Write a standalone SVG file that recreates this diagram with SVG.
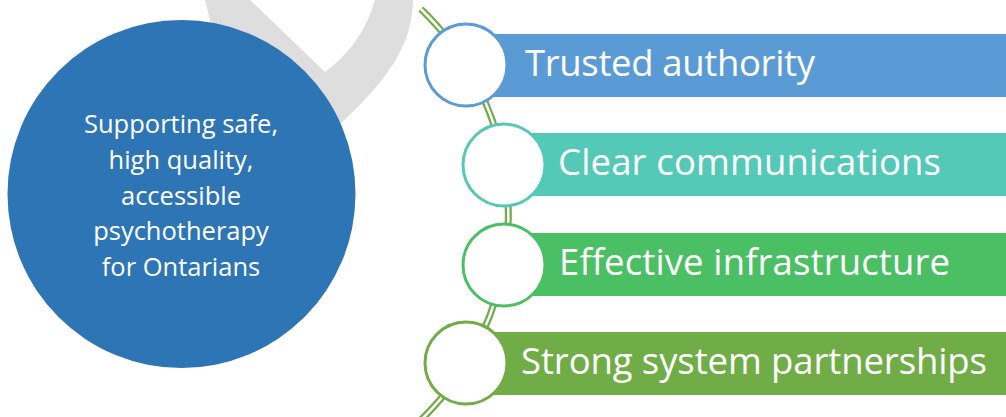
<svg xmlns="http://www.w3.org/2000/svg" width="1006" height="417" viewBox="0 0 1006 417">
<style>
.bar-text{font-family:"Open Sans","Liberation Sans",sans-serif;font-size:36.5px;fill:#ffffff}
.main-text{font-family:"Open Sans","Liberation Sans",sans-serif;font-size:25.5px;fill:#ffffff;text-anchor:middle}
.node-circle{fill:#ffffff;stroke-width:3}
</style>
<rect width="1006" height="417" fill="#ffffff"/>
<g id="backdrop">
<path d="M205,0 L250,0 L325,72 Q362,45 375,0 L413,0 C412,45 390,78 336,128 L300,150 L220,60 Z" fill="#dedede"/>
</g>
<g id="center">
<circle cx="181.5" cy="194" r="174" fill="#2e75b6"/>
<text class="main-text" x="181" y="133">Supporting safe,</text>
<text class="main-text" x="181" y="169">high quality,</text>
<text class="main-text" x="181" y="205">accessible</text>
<text class="main-text" x="181" y="240">psychotherapy</text>
<text class="main-text" x="181" y="276">for Ontarians</text>
</g>
<g id="connectors">
<path d="M420.9,9 A285.1,285.1 0 0 1 415.5,425" fill="none" stroke="#70ad47" stroke-width="7"/>
<path d="M420.9,9 A285.1,285.1 0 0 1 415.5,425" fill="none" stroke="#ffffff" stroke-width="2.5"/>
</g>
<g id="item1">
<rect x="466" y="34" width="540" height="63" fill="#5b9bd5"/>
<circle class="node-circle" cx="466" cy="65" r="41" stroke="#5b9bd5"/>
<text class="bar-text" x="525" y="76" textLength="290">Trusted authority</text>
</g>
<g id="item2">
<rect x="504" y="133" width="502" height="63" fill="#54c9b7"/>
<circle class="node-circle" cx="504" cy="165" r="41" stroke="#54c9b7"/>
<text class="bar-text" x="558" y="175" textLength="383">Clear communications</text>
</g>
<g id="item3">
<rect x="504" y="233" width="502" height="63" fill="#4bbf63"/>
<circle class="node-circle" cx="504" cy="265" r="41" stroke="#4bbf63"/>
<text class="bar-text" x="559" y="275" textLength="391">Effective infrastructure</text>
</g>
<g id="item4">
<rect x="466" y="332" width="540" height="63" fill="#70ad47"/>
<circle class="node-circle" cx="466" cy="363" r="41" stroke="#70ad47"/>
<text class="bar-text" x="521" y="374" textLength="466">Strong system partnerships</text>
</g>
</svg>
